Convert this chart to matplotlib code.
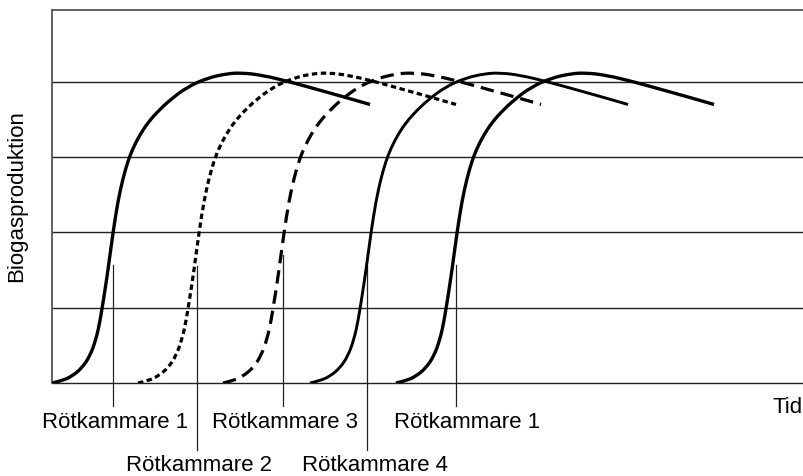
import matplotlib
matplotlib.use("Agg")
import matplotlib.pyplot as plt
from matplotlib.path import Path
from matplotlib.patches import PathPatch

plt.rcParams['font.family'] = ['Liberation Sans', 'DejaVu Sans']

# Shared curve shape (time offset from curve start, biogas production)
shape_t = [0, 10, 20, 30, 38, 44, 48, 52, 56, 61, 66, 71, 76, 81, 88, 96,
           106, 118, 135, 155, 175, 190, 210, 238, 265, 292, 318]
shape_y = [0, 0.03, 0.09, 0.2, 0.36, 0.58, 0.82, 1.15, 1.5, 2.0, 2.42, 2.72,
           2.95, 3.12, 3.3, 3.46, 3.61, 3.76, 3.93, 4.05, 4.11, 4.12, 4.09,
           4.0, 3.9, 3.8, 3.7]

# Start times of the five curves
starts = [0, 86, 171, 258, 344]
styles = ['-', (0, (1.7, 1.1)), (0, (4.2, 2.2)), '-', '-']
widths = [2.4, 2.3, 2.3, 2.1, 2.4]

# Marker lines: time, top value, bottom value
marker_x = [61, 145, 231, 315, 404]
marker_top = [1.57, 1.55, 1.7, 1.55, 1.57]
marker_bottom = [-0.31, -0.89, -0.31, -0.89, -0.31]
labels = ['Rötkammare 1', 'Rötkammare 2', 'Rötkammare 3', 'Rötkammare 4',
          'Rötkammare 1']
label_x = [63, 147, 233, 323, 415]
label_y = [-0.53, -1.1, -0.53, -1.1, -0.53]

grid_vals = [0, 1, 2, 3, 4]


def smooth_path(xs, ys):
    """Quadratic Bezier path through midpoints, read points as controls."""
    verts = [(xs[0], ys[0])]
    codes = [Path.MOVETO]
    for i in range(1, len(xs) - 1):
        mx = (xs[i] + xs[i + 1]) / 2
        my = (ys[i] + ys[i + 1]) / 2
        verts += [(xs[i], ys[i]), (mx, my)]
        codes += [Path.CURVE3, Path.CURVE3]
    verts.append((xs[-1], ys[-1]))
    codes.append(Path.LINETO)
    return Path(verts, codes)


fig = plt.figure(figsize=(8.04, 4.76), dpi=100)
ax = fig.add_axes([52 / 804, 1 - 383 / 476, 752 / 804, 373 / 476])
ax.set_xlim(0, 752)
ax.set_ylim(0, 4.955)

for g in grid_vals:
    ax.axhline(g, color='#222222', lw=1.0, zorder=1, clip_on=False)

for s, ls, lw in zip(starts, styles, widths):
    p = smooth_path([s + t for t in shape_t], shape_y)
    ax.add_patch(PathPatch(p, fill=False, edgecolor='black', lw=lw,
                           linestyle=ls, zorder=3, capstyle='butt'))

for mx, mt, mb in zip(marker_x, marker_top, marker_bottom):
    ax.plot([mx, mx], [mb, mt], color='#222222', lw=0.9, clip_on=False,
            zorder=2)

for lx, ly, lab in zip(label_x, label_y, labels):
    ax.text(lx, ly, lab, ha='center', va='center', fontsize=16,
            color='black')

ax.text(736, -0.32, 'Tid', ha='center', va='center', fontsize=16)
fig.text(17 / 804, 1 - 196 / 476, 'Biogasproduktion', rotation=90,
         ha='center', va='center', fontsize=16)

ax.set_xticks([])
ax.set_yticks([])
for side in ['right', 'bottom']:
    ax.spines[side].set_visible(False)
for side in ['left', 'top']:
    ax.spines[side].set_color('#555555')
    ax.spines[side].set_linewidth(1.3)

fig.savefig('out.png', dpi=100, facecolor='white')
